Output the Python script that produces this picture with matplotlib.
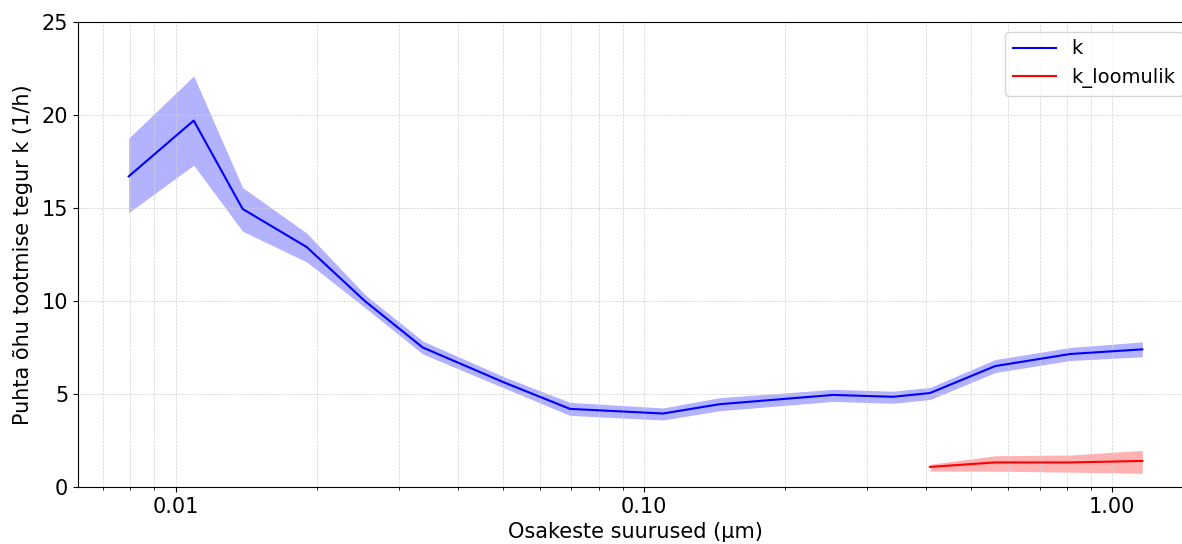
import matplotlib

matplotlib.use('Agg')
import matplotlib.pyplot as plt
from matplotlib.ticker import FormatStrFormatter, NullFormatter
import numpy as np

# osakeste suurused (µm) ja puhta õhu tootmise tegur k (1/h)
d_k = [0.00794, 0.01093, 0.0139, 0.01905, 0.02535, 0.0337, 0.0505, 0.0695,
       0.1098, 0.145, 0.2535, 0.340, 0.408, 0.562, 0.813, 1.159]
k = [16.7, 19.7, 14.95, 12.9, 10.0, 7.5, 5.6, 4.2,
     3.95, 4.45, 4.95, 4.85, 5.05, 6.5, 7.15, 7.4]
k_low = [14.75, 17.3, 13.75, 12.1, 9.65, 7.15, 5.3, 3.85,
         3.6, 4.1, 4.6, 4.5, 4.7, 6.15, 6.8, 7.0]
k_high = [18.75, 22.1, 16.1, 13.65, 10.35, 7.85, 5.9, 4.55,
          4.25, 4.8, 5.25, 5.15, 5.35, 6.85, 7.5, 7.8]

# looduslik vähenemine
d_nat = [0.408, 0.562, 0.813, 1.159]
k_nat = [1.08, 1.32, 1.32, 1.40]
k_nat_low = [0.85, 0.85, 0.80, 0.73]
k_nat_high = [1.22, 1.68, 1.72, 1.97]

fig = plt.figure(figsize=(11.82, 5.44), dpi=100)
ax = fig.add_axes([0.066, 0.1048, 0.9433, 0.8548])

ax.plot(d_k, k, color='blue', lw=1.5, label='k')
ax.fill_between(d_k, k_low, k_high, color='blue', alpha=0.3, lw=0)
ax.plot(d_nat, k_nat, color='red', lw=1.5, label='k_loomulik')
ax.fill_between(d_nat, k_nat_low, k_nat_high, color='red', alpha=0.3, lw=0)

ax.set_xscale('log')
ax.set_ylim(0, 25)
ax.xaxis.set_major_formatter(FormatStrFormatter('%.2f'))
ax.xaxis.set_minor_formatter(NullFormatter())
ax.grid(True, which='both', ls='--', lw=0.5, color='#d0d0d0')

ax.tick_params(labelsize=15)
ax.set_xlabel('Osakeste suurused (µm)', fontsize=15, labelpad=4)
ax.set_ylabel('Puhta õhu tootmise tegur k (1/h)', fontsize=15, labelpad=6)
ax.legend(loc='upper right', fontsize=14, handlelength=2.2)

fig.savefig('out.png', dpi=100)
